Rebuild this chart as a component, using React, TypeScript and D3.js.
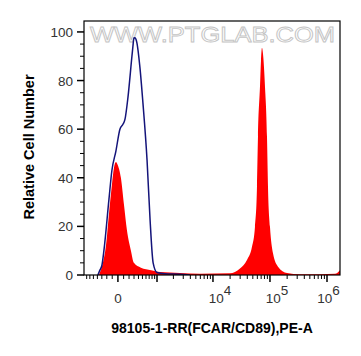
import React from "react";
import * as d3 from "d3";

// ---- data (fluorescence intensity, cell count %) ----
const redSeries: [number, number][] = [
  [-364, 0], [-277, 5], [-217, 12], [-160, 25], [-106, 37], [-70, 44], [-35, 46.5],
  [0, 45], [52, 40], [106, 29], [160, 18.5], [237, 10], [298, 5], [460, 3], [767, 2],
  [1139, 1.2], [2621, 0.8], [5909, 0.5], [19878, 0.7], [29780, 2.7], [39500, 6.2],
  [48330, 11.6], [54560, 19.9], [59150, 36.3], [61600, 56.9], [66780, 77.5],
  [69530, 88], [72400, 93.5], [75390, 91], [81740, 77.5], [88620, 56.9], [92280, 36.3],
  [100000, 19.9], [112960, 8.9], [138300, 3.4], [198900, 0.8], [336200, 0.3],
  [754000, 0.3], [1382000, 0.5], [1690000, 2],
];

const blueSeries: [number, number][] = [
  [-387, 0], [-342, 2], [-298, 4], [-257, 10], [-160, 31], [-106, 43], [-35, 51],
  [35, 60], [88, 62], [124, 64], [179, 73], [257, 90], [277, 94], [298, 97.5],
  [320, 97.6], [342, 97], [364, 95.5], [434, 85.6], [513, 70.8], [632, 47.3],
  [731, 22.6], [841, 5], [1001, 1], [1406, 0.5], [2621, 0.3], [3940, 0],
];

const yTicks = [0, 20, 40, 60, 80, 100];
const yMinorTicks = [5, 10, 15, 25, 30, 35, 45, 50, 55, 65, 70, 75, 85, 90, 95];
const xMajorTicks = [0, 1e3, 1e4, 1e5, 1e6];
const xLabels: { v: number; base: string; exp: string }[] = [
  { v: 0, base: "0", exp: "" },
  { v: 1e4, base: "10", exp: "4" },
  { v: 1e5, base: "10", exp: "5" },
  { v: 1e6, base: "10", exp: "6" },
];
const xMinorTicks: number[] = [
  -700, -600, -500, -400, -300, -200, -100, 100, 200, 300, 400, 500, 600, 700, 800, 900,
  ...[2, 3, 4, 5, 6, 7, 8, 9].flatMap((m) => [m * 1e3, m * 1e4, m * 1e5]),
];

const xTitle = "98105-1-RR(FCAR/CD89),PE-A";
const yTitle = "Relative Cell Number";
const watermark = "WWW.PTGLAB.COM";

// ---- layout ----
const W = 361;
const H = 356;
const left = 84;
const right = 340;
const top = 21;
const bottom = 275;

const LOGICLE_W = 431;
const T = (v: number) => Math.asinh(v / LOGICLE_W) / Math.LN10;
const xLin = d3.scaleLinear().domain([T(-793), T(1.69e6)]).range([left, right]);
const x = (v: number) => xLin(T(v));
const y = d3.scaleLinear().domain([0, 104.5]).range([bottom, top]);

const font = "'Liberation Sans', Arial, sans-serif";

export default function App() {
  const area = d3
    .area<[number, number]>()
    .x((d) => x(d[0]))
    .y0(y(0))
    .y1((d) => y(d[1]))
    .curve(d3.curveMonotoneX);
  const line = d3
    .line<[number, number]>()
    .x((d) => x(d[0]))
    .y((d) => y(d[1]))
    .curve(d3.curveMonotoneX);

  return (
    <svg
      width={W}
      height={H}
      style={{ position: "absolute", left: 0, top: 0, background: "#fff" }}
      fontFamily={font}
    >
      <defs>
        <clipPath id="plot">
          <rect x={left} y={top} width={right - left} height={bottom - top} />
        </clipPath>
      </defs>
      <rect width={W} height={H} fill="#fff" />
      <text
        x={90}
        y={42}
        fontSize={22}
        fill="#fff"
        stroke="#c4c4c4"
        strokeWidth={0.9}
        textLength={245}
        lengthAdjust="spacingAndGlyphs"
      >
        {watermark}
      </text>
      <g clipPath="url(#plot)">
        <path d={area(redSeries) || ""} fill="#ff0000" />
        <path d={line(blueSeries) || ""} fill="none" stroke="#14147a" strokeWidth={1.5} />
      </g>
      <rect
        x={left}
        y={top}
        width={right - left}
        height={bottom - top}
        fill="none"
        stroke="#000"
        strokeWidth={1.2}
      />
      {/* y axis */}
      {yTicks.map((t) => (
        <g key={"y" + t}>
          <line x1={left - 7} x2={left} y1={y(t)} y2={y(t)} stroke="#000" strokeWidth={1.5} />
          <text x={left - 11} y={y(t) + 5} fontSize={13.5} textAnchor="end" fill="#333">
            {t}
          </text>
        </g>
      ))}
      {yMinorTicks.map((t) => (
        <line key={"ym" + t} x1={left - 4} x2={left} y1={y(t)} y2={y(t)} stroke="#000" strokeWidth={1} />
      ))}
      {/* x axis */}
      {xMajorTicks.map((t) => (
        <line key={"x" + t} x1={x(t)} x2={x(t)} y1={bottom} y2={bottom + 7} stroke="#000" strokeWidth={1.5} />
      ))}
      {xMinorTicks.map((t) => (
        <line key={"xm" + t} x1={x(t)} x2={x(t)} y1={bottom} y2={bottom + 4} stroke="#000" strokeWidth={1} />
      ))}
      {xLabels.map((l) => {
        const cx = l.exp ? Math.min(x(l.v) + 7, right - 11.5) : x(l.v);
        return (
          <text key={"xl" + l.v} x={cx} y={303} fontSize={13.5} textAnchor="middle" fill="#333">
            {l.base}
            {l.exp && (
              <tspan dy={-8} fontSize={13.5}>
                {l.exp}
              </tspan>
            )}
          </text>
        );
      })}
      <text x={212} y={333} fontSize={14} fontWeight="bold" textAnchor="middle" fill="#000">
        {xTitle}
      </text>
      <text
        transform={`translate(34,147) rotate(-90)`}
        fontSize={14.5}
        fontWeight="bold"
        textAnchor="middle"
        fill="#000"
      >
        {yTitle}
      </text>
    </svg>
  );
}
